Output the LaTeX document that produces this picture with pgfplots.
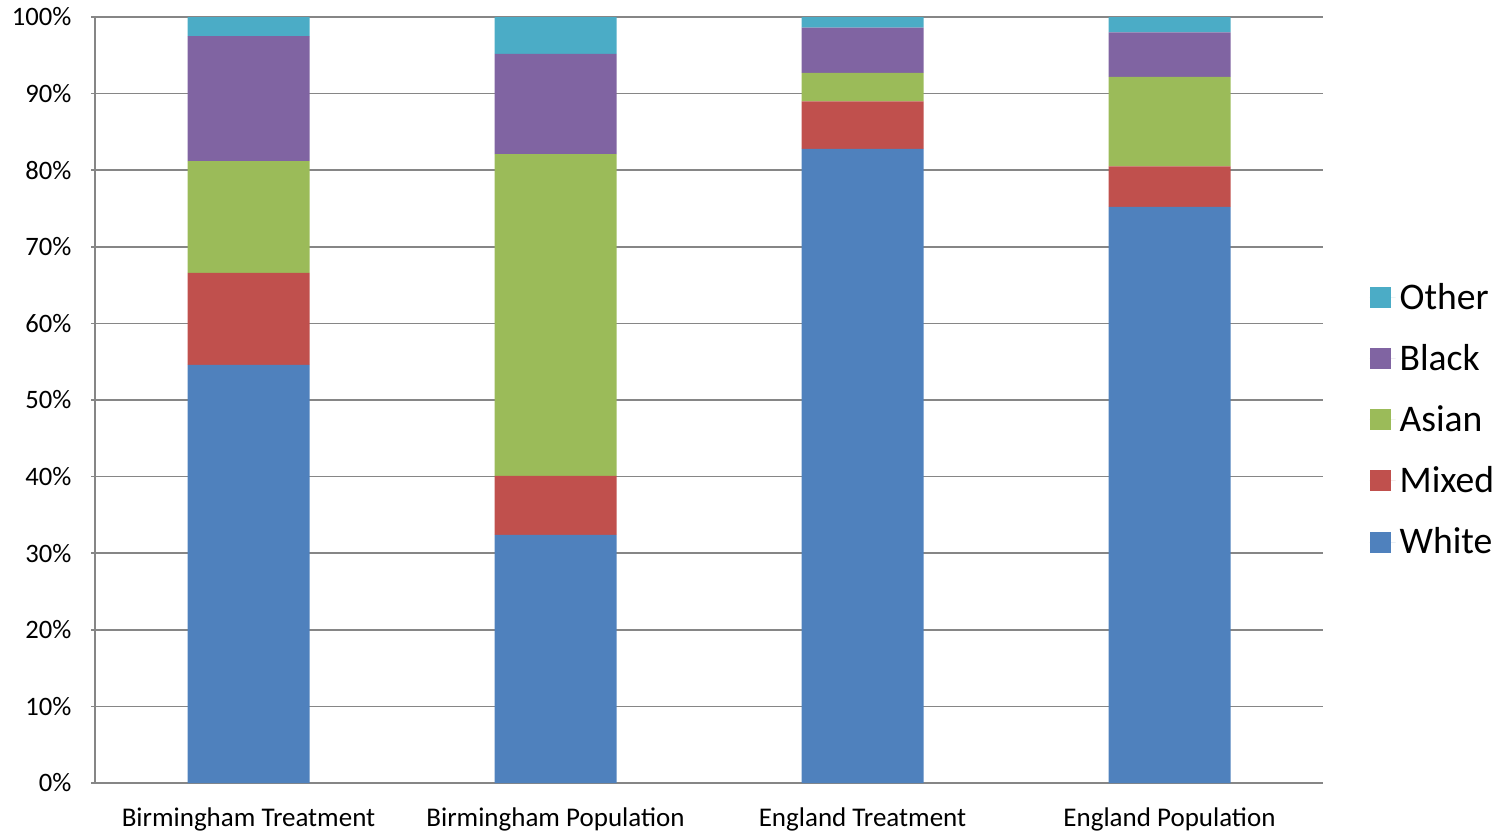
\documentclass[border=0pt]{standalone}
\usepackage{pgfplots}
\pgfplotsset{compat=1.18}
\usepackage{fontspec}
\setmainfont{Carlito}
\definecolor{cWhite}{HTML}{4F81BD}
\definecolor{cMixed}{HTML}{C0504D}
\definecolor{cAsian}{HTML}{9BBB59}
\definecolor{cBlack}{HTML}{8064A2}
\definecolor{cOther}{HTML}{4BACC6}
\definecolor{cGrid}{RGB}{134,134,134}
\begin{document}
\begin{tikzpicture}
\begin{axis}[
  at={(0,0)}, anchor=south west,
  scale only axis,
  width=614pt, height=383pt,
  ybar stacked,
  bar width=61pt,
  xmin=-0.5, xmax=3.5,
  ymin=0, ymax=100,
  xtick={0,1,2,3},
  xticklabels={Birmingham Treatment, Birmingham Population, England Treatment, England Population},
  x tick label style={font=\fontsize{13.5}{15}\selectfont, yshift=-7pt},
  major x tick style={draw=none},
  extra x ticks={-0.5,0.5,1.5,2.5,3.5},
  extra x tick labels={},
  extra x tick style={grid=none, major tick length=3.5pt, tick style={draw=cGrid, line width=0.8pt}},
  ytick={0,10,...,100},
  yticklabel={\pgfmathprintnumber{\tick}\%},
  y tick label style={font=\fontsize{13.3}{15}\selectfont, xshift=-6.5pt},
  /pgf/number format/assume math mode=true,
  ymajorgrids,
  grid style={draw=cGrid, line width=0.8pt},
  major tick length=3.5pt,
  tick align=outside,
  tick style={draw=cGrid, line width=0.8pt},
  axis lines=left,
  axis line style={-, draw=cGrid, line width=0.8pt},
  legend style={at={(axis description cs:1.036,0.474)}, anchor=west, draw=none, font=\fontsize{18.8}{20}\selectfont, row sep=12pt, inner sep=1pt},
  legend cell align=left,
  reverse legend,
  legend image code/.code={\fill[#1] (0pt,-5.25pt) rectangle (10.5pt,5.25pt); \path (0pt,0pt) -- (13pt,0pt);},
  every axis plot/.append style={draw=none},
  clip=false,
]
\addplot[fill=cWhite] coordinates {(0,54.6) (1,32.4) (2,82.8) (3,75.2)};
\addplot[fill=cMixed] coordinates {(0,12.0) (1,7.7) (2,6.2) (3,5.3)};
\addplot[fill=cAsian] coordinates {(0,14.6) (1,42.0) (2,3.7) (3,11.7)};
\addplot[fill=cBlack] coordinates {(0,16.3) (1,13.1) (2,5.9) (3,5.8)};
\addplot[fill=cOther] coordinates {(0,2.5) (1,4.8) (2,1.4) (3,2.0)};
\legend{White, Mixed, Asian, Black, Other}
\end{axis}
\pgfresetboundingbox
\path[use as bounding box] (-47.5pt,-24.5pt) rectangle (703.5pt,391.5pt);
\end{tikzpicture}
\end{document}
